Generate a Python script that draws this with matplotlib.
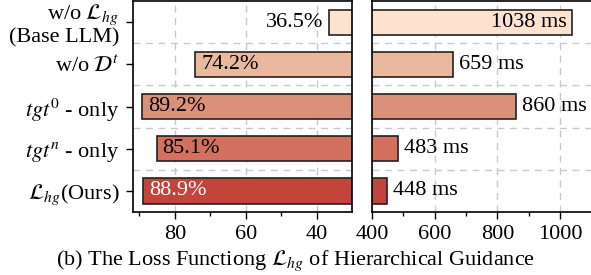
import numpy as np
import matplotlib
matplotlib.use("Agg")
import matplotlib.pyplot as plt
from matplotlib.ticker import MultipleLocator

plt.rcParams['font.family'] = ['Liberation Serif', 'DejaVu Serif']
plt.rcParams['mathtext.fontset'] = 'stix'
plt.rcParams['font.size'] = 16

# data, top to bottom
labels = ['w/o $\\mathcal{L}_{hg}$\n(Base LLM)', 'w/o $\\mathcal{D}^t$',
          '$tgt^0$ - only', '$tgt^n$ - only', '$\\mathcal{L}_{hg}$(Ours)']
accuracy = [36.5, 74.2, 89.2, 85.1, 88.9]
latency = [1038, 659, 860, 483, 448]
colors = ['#fde3cf', '#e9b99e', '#db907a', '#d4705f', '#c3443a']
acc_text_color = ['black', 'black', 'black', 'black', 'white']

fig = plt.figure(figsize=(5.91, 2.75), dpi=100)
axL = fig.add_axes([0.225, 0.229, 0.3706, 0.767])
axR = fig.add_axes([0.6294, 0.229, 0.3858, 0.767])

y = np.arange(len(labels))

def style(ax):
    ax.set_axisbelow(True)
    ax.grid(axis='x', linestyle=(0, (5, 4)), color='#c8c8c8', linewidth=1)
    for b in np.arange(0.5, len(labels) - 1, 1):
        ax.axhline(b, linestyle=(0, (5, 4)), color='#c8c8c8', linewidth=1, zorder=0)
    ax.set_ylim(len(labels) - 0.5, -0.5)
    ax.tick_params(axis='x', which='major', length=5, width=1, direction='out', pad=4.5)
    ax.tick_params(axis='x', which='minor', length=3, width=1, direction='out')
    for s in ax.spines.values():
        s.set_linewidth(1.2)

# left: accuracy (inverted axis)
axL.barh(y, accuracy, height=0.6, color=colors, edgecolor='#222222', linewidth=1.2)
axL.set_xlim(91.8, 30.1)
axL.xaxis.set_major_locator(MultipleLocator(20))
axL.xaxis.set_minor_locator(MultipleLocator(10))
style(axL)
axL.set_yticks(y)
axL.set_yticklabels(labels, linespacing=1.05)
axL.tick_params(axis='y', length=5, width=1, pad=5)
for i, v in enumerate(accuracy):
    if v < 45:
        axL.annotate(f'{v}%', (v, i), xytext=(-4, 0), textcoords='offset points',
                     ha='right', va='center')
    else:
        axL.annotate(f'{v}%', (v, i), xytext=(4, 0), textcoords='offset points',
                     ha='left', va='center', color=acc_text_color[i])

# right: latency
axR.barh(y, latency, height=0.6, color=colors, edgecolor='#222222', linewidth=1.2)
axR.set_xlim(400, 1127)
axR.xaxis.set_major_locator(MultipleLocator(200))
axR.xaxis.set_minor_locator(MultipleLocator(100))
style(axR)
axR.set_yticks([])
for i, v in enumerate(latency):
    if v > 1000:
        axR.annotate(f'{v} ms', (v, i), xytext=(-4, 0), textcoords='offset points',
                     ha='right', va='center')
    else:
        axR.annotate(f'{v} ms', (v, i), xytext=(4, 0), textcoords='offset points',
                     ha='left', va='center')

fig.text(0.5, 0.052, '(b) The Loss Functiong $\\mathcal{L}_{hg}$ of Hierarchical Guidance',
         ha='center', va='center')

fig.savefig('out.png', dpi=100)
